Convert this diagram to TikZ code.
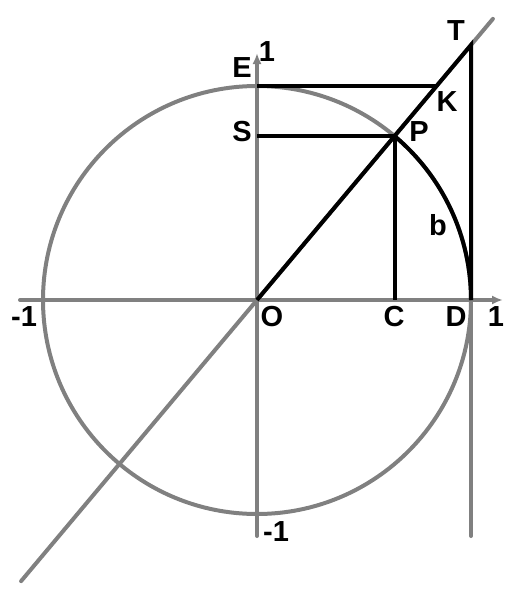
\documentclass[tikz,border=0pt]{standalone}
\usepackage{fontspec}
\setmainfont{Liberation Sans}
\usetikzlibrary{arrows.meta,calc}
\begin{document}
\begin{tikzpicture}[x=1pt,y=-1pt,
  greyline/.style={draw=black!50,line width=4pt,line cap=round},
  blackline/.style={draw=black,line width=4pt},
  lbl/.style={font=\fontsize{29}{30}\selectfont\bfseries,inner sep=0pt}]
\useasboundingbox (0,0) rectangle (514,600);
\coordinate (O) at (257,300);
\def\r{214}
\coordinate (D) at ($(O)+(\r,0)$);
\coordinate (E) at ($(O)+(0,-\r)$);
\coordinate (P) at ($(O)+({\r*cos(50)},{-\r*sin(50)})$);
\coordinate (C) at (P |- O);
\coordinate (S) at (P -| O);
\coordinate (T) at ($(O)+(\r,{-\r*tan(50)})$);
\coordinate (K) at ($(O)+({\r/tan(50)},-\r)$);
\coordinate (Xl) at (20,300);
\coordinate (Xr) at (503,300);
\coordinate (Yt) at (257,53);
\coordinate (Yb) at (257,536);
\coordinate (Tb) at (471,536);
\coordinate (Lb) at ($(O)+({-367*cos(50)},{367*sin(50)})$);
\coordinate (Lt) at ($(O)+({367*cos(50)},{-367*sin(50)})$);
% grey parts
\draw[greyline] (O) circle (\r);
\draw[greyline,-{Latex[length=11pt,width=9pt]}] (Xl) -- (Xr);
\draw[greyline,-{Latex[length=11pt,width=9pt]}] (Yb) -- (Yt);
\draw[greyline] (D) -- (Tb);
\draw[greyline] (Lb) -- (Lt);
% black parts
\draw[blackline] (E) -- (K);
\draw[blackline] (S) -- (P) -- (C);
\draw[blackline] (O) -- (T) -- (D);
\draw[blackline] (D) arc[start angle=0,end angle=-50,radius=\r];
% labels
\node[lbl] (lE) at (242,68) {E};
\node[lbl] (lT) at (456,31) {T};
\node[lbl] (lK) at (447,102) {K};
\node[lbl] (lS) at (242,132) {S};
\node[lbl] (lP) at (419,132) {P};
\node[lbl] (lO) at (272,317) {O};
\node[lbl] (lC) at (394,317) {C};
\node[lbl] (lD) at (456,317) {D};
\node[lbl] (lone) at (496,317) {1};
\node[lbl] (lmone) at (24,317) {-1};
\node[lbl] (ltop) at (267,52) {1};
\node[lbl] (lbot) at (276,532) {-1};
\node[lbl] (lb) at (438,225) {b};
\end{tikzpicture}
\end{document}
